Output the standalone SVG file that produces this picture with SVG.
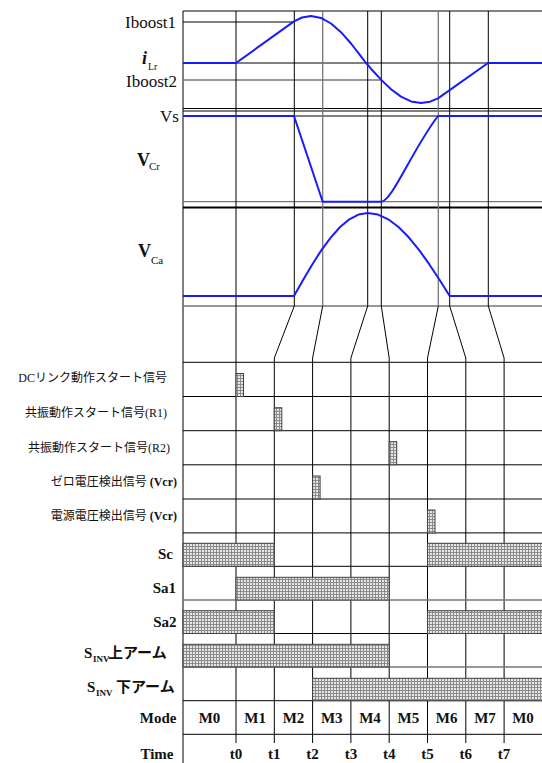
<svg xmlns="http://www.w3.org/2000/svg" width="542" height="763" viewBox="0 0 542 763">
<style>
.ser{font-family:"Liberation Serif","Noto Sans CJK JP",serif;fill:#111}
.b{font-weight:bold}
.lbl{font-size:17px}
.sig{font-size:12px}
.big{font-size:15px;font-weight:bold}
.grid{stroke:#000;stroke-width:1;fill:none}
.gray{stroke:#777;stroke-width:1.3;fill:none}
.wave{stroke:#1a1aff;stroke-width:2;fill:none;stroke-linejoin:round}
.bar{fill:url(#hatch);stroke:#444;stroke-width:1}
</style>
<defs>
<pattern id="hatch" width="3" height="3" patternUnits="userSpaceOnUse">
<rect width="3" height="3" fill="#e6e6e6"/>
<path d="M0 0.5H3M0.5 0V3" stroke="#8c8c8c" stroke-width="1"/>
</pattern>
</defs>
<rect width="542" height="763" fill="#fff"/>

<g id="connectors">
<!-- frame and panel lines -->
<path class="grid" d="M183 11V763M183 11H542M183 22H294M183 63H542M183 108.5H542M183 111H542M183 116H542"/>
<path class="gray" d="M183 80H381M183 201.7H542M183 306H542"/>
<path d="M183 207.5H542" stroke="#000" stroke-width="2.2"/>
<!-- time lines with slants -->
<path class="grid" d="M236 11V743"/>
<path class="grid" d="M294.3 11V306L274.3 358V743"/>
<path class="gray" d="M322.7 11V306"/>
<path class="grid" d="M322.7 306L312.6 358V743"/>
<path class="grid" d="M367.7 11V306L350.9 358V743"/>
<path class="grid" d="M381.3 11V306L389.2 358V743"/>
<path class="gray" d="M438.3 11V306"/>
<path class="grid" d="M438.3 306L427.5 358V743"/>
<path class="grid" d="M449.7 11V306L465.8 358V743"/>
<path class="grid" d="M488.3 11V306L504.1 358V743"/>
<!-- timing rows -->
<path class="grid" d="M183 362.3H542M183 396.5H542M183 430.7H542M183 464.8H542M183 499H542M183 532.9H542M183 566.3H542M183 633.5H542M183 700.7H542M183 734.3H542"/>
<path class="gray" d="M183 600H542M183 667H542"/>
</g>

<g id="waveforms">
<path id="iLr-wave" class="wave" d="M183 63L236 63L294 21.4L302 17.5L311 16L321 17.9L331 23.5L341 32.2L351 43.5L361 56.3L366 63L371 68.7L381 79.6L391 89.2L401 96.6L411 101.4L421 103L430 101.7L438 98.4L488 63L542 63"/>
<path id="VCr-wave" class="wave" d="M183 116L294 116L322.7 201.7L381 201.7C392 201.7 412 150 438 116L542 116"/>
<path id="VCa-wave" class="wave" d="M183 296L294 296L303.2 279.8L312.4 264.2L321.6 249.9L330.9 237.3L340.1 227L349.3 219.3L358.5 214.6L367.7 213L378 214.6L388.2 219.3L398.5 227L408.7 237.3L419 249.9L429.2 264.2L439.5 279.8L449.7 296L542 296"/>
</g>

<g id="labels-top">
<text class="ser lbl" x="176" y="28" text-anchor="end">Iboost1</text>
<text class="ser" x="142" y="64" font-size="18" font-weight="bold" font-style="italic">i</text>
<text class="ser" x="148" y="70" font-size="10">Lr</text>
<text class="ser lbl" x="177" y="87" text-anchor="end">Iboost2</text>
<text class="ser lbl" x="179" y="122" text-anchor="end">Vs</text>
<text class="ser b" x="137" y="166" font-size="18">V</text>
<text class="ser" x="149" y="170" font-size="11">Cr</text>
<text class="ser b" x="138" y="257" font-size="18">V</text>
<text class="ser" x="151" y="264" font-size="11">Ca</text>
</g>

<g id="row-dclink">
<text class="ser sig" x="167" y="382" text-anchor="end">DCリンク動作スタート信号</text>
<rect class="bar" x="236" y="373.5" width="7.5" height="23"/>
</g>
<g id="row-r1">
<text class="ser sig" x="167" y="417" text-anchor="end">共振動作スタート信号(R1)</text>
<rect class="bar" x="274.3" y="407.7" width="7.5" height="23"/>
</g>
<g id="row-r2">
<text class="ser sig" x="170" y="451.5" text-anchor="end">共振動作スタート信号(R2)</text>
<rect class="bar" x="389.2" y="441.7" width="7.5" height="23"/>
</g>
<g id="row-zero">
<text class="ser sig" x="177" y="486" text-anchor="end">ゼロ電圧検出信号 <tspan font-weight="bold">(Vcr)</tspan></text>
<rect class="bar" x="312.6" y="476" width="7.5" height="23"/>
</g>
<g id="row-source">
<text class="ser sig" x="177" y="520" text-anchor="end">電源電圧検出信号 <tspan font-weight="bold">(Vcr)</tspan></text>
<rect class="bar" x="427.5" y="510" width="7.5" height="23"/>
</g>

<g id="row-sc">
<text class="ser big" x="173" y="559" text-anchor="end">Sc</text>
<rect class="bar" x="183" y="543.3" width="91.3" height="23"/>
<rect class="bar" x="427.5" y="543.3" width="115" height="23"/>
</g>
<g id="row-sa1">
<text class="ser big" x="176" y="593" text-anchor="end">Sa1</text>
<rect class="bar" x="236" y="577.3" width="153.2" height="22.7"/>
</g>
<g id="row-sa2">
<text class="ser big" x="176.5" y="626.5" text-anchor="end">Sa2</text>
<rect class="bar" x="183" y="610.7" width="91.3" height="22.8"/>
<rect class="bar" x="427.5" y="610.7" width="115" height="22.8"/>
</g>
<g id="row-sinv-upper">
<text class="ser big" x="84" y="658">S</text>
<text class="ser b" x="93" y="662" font-size="9">INV</text>
<text class="ser big" x="108" y="658">上アーム</text>
<rect class="bar" x="183" y="644.3" width="206.2" height="22.7"/>
</g>
<g id="row-sinv-lower">
<text class="ser big" x="87" y="691.5">S</text>
<text class="ser b" x="96" y="695.5" font-size="9">INV</text>
<text class="ser big" x="116" y="691.5">下アーム</text>
<rect class="bar" x="312.6" y="678.3" width="230" height="22.4"/>
</g>

<g id="row-mode">
<text class="ser big" x="176.5" y="723" text-anchor="end">Mode</text>
<g class="ser big" text-anchor="middle">
<text x="209.5" y="723">M0</text>
<text x="255.2" y="723">M1</text>
<text x="293.5" y="723">M2</text>
<text x="331.8" y="723">M3</text>
<text x="370" y="723">M4</text>
<text x="408.4" y="723">M5</text>
<text x="446.7" y="723">M6</text>
<text x="485" y="723">M7</text>
<text x="523" y="723">M0</text>
</g>
</g>

<g id="row-time">
<text class="ser big" x="173.5" y="759" text-anchor="end">Time</text>
<g class="ser big" text-anchor="middle">
<text x="236" y="759">t0</text>
<text x="274.3" y="759">t1</text>
<text x="312.6" y="759">t2</text>
<text x="350.9" y="759">t3</text>
<text x="389.2" y="759">t4</text>
<text x="427.5" y="759">t5</text>
<text x="465.8" y="759">t6</text>
<text x="504.1" y="759">t7</text>
</g>
</g>
</svg>
